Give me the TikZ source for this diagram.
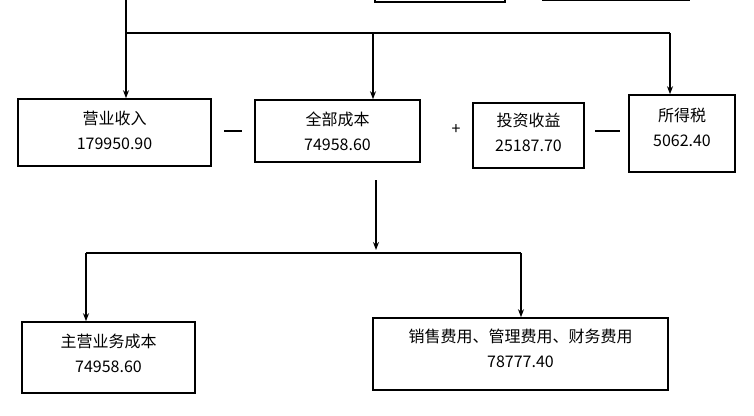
\documentclass[tikz,border=0pt]{standalone}
\usepackage{fontspec}
\setmainfont{Noto Sans CJK SC}
\usetikzlibrary{arrows.meta}
\begin{document}
\begin{tikzpicture}[x=1pt,y=-1pt,
  bx/.style={draw,line width=1.6pt},
  tx/.style={align=center,font=\fontsize{16}{25}\selectfont},
  ln/.style={line width=1.4pt},
  ar/.style={line width=1.2pt,-{Stealth[length=8pt,width=6pt]}},
  op/.style={font=\fontsize{16}{16}\selectfont}]
\useasboundingbox (0,0) rectangle (754,415);
\clip (0,0) rectangle (754,415);
\node[bx,minimum width=130pt,minimum height=20pt] (t1) at (440,-8) {};
\node[bx,minimum width=147pt,minimum height=20pt] (t2) at (616,-10) {};
\node[bx,minimum width=193pt,minimum height=67pt] (a) at (114.5,132.5) {};
\node[tx] (at) at (114.5,130) {营业收入\\179950.90};
\node[bx,minimum width=165pt,minimum height=62pt] (b) at (337.5,131) {};
\node[tx] (bt) at (337.5,131) {全部成本\\74958.60};
\node[bx,minimum width=111pt,minimum height=65pt] (c) at (528.5,135.5) {};
\node[tx] (ct) at (528.5,132) {投资收益\\25187.70};
\node[bx,minimum width=106pt,minimum height=77pt] (d) at (682,133.5) {};
\node[tx] (dt) at (682,127) {所得税\\5062.40};
\node[bx,minimum width=173pt,minimum height=71pt] (e) at (108.5,357.5) {};
\node[tx] (et) at (108.5,353) {主营业务成本\\74958.60};
\node[bx,minimum width=295pt,minimum height=72pt] (f) at (520.5,354) {};
\node[tx] (ft) at (520.5,348) {销售费用、管理费用、财务费用\\78777.40};
\coordinate (top) at (126,0);
\coordinate (j1) at (126,33);
\coordinate (j3) at (670,33);
\coordinate (s) at (376,180);
\coordinate (k1) at (86,253);
\coordinate (k2) at (521,253);
\draw[ln] (top) -- (j1) -- (j3);
\draw[ar] (j1) -- (a.north -| j1);
\draw[ar] (373,33) -- (b.north -| 373,0);
\draw[ar] (j3) -- (d.north -| j3);
\draw[ar] (s) -- (376,250);
\draw[ln] (k1) -- (k2);
\draw[ar] (k1) -- (e.north -| k1);
\draw[ar] (k2) -- (f.north -| k2);
\draw[ln] (224,131) -- (242,131);
\draw[ln] (595,131) -- (620,131);
\node[op] (p) at (456,130) {+};
\end{tikzpicture}
\end{document}
